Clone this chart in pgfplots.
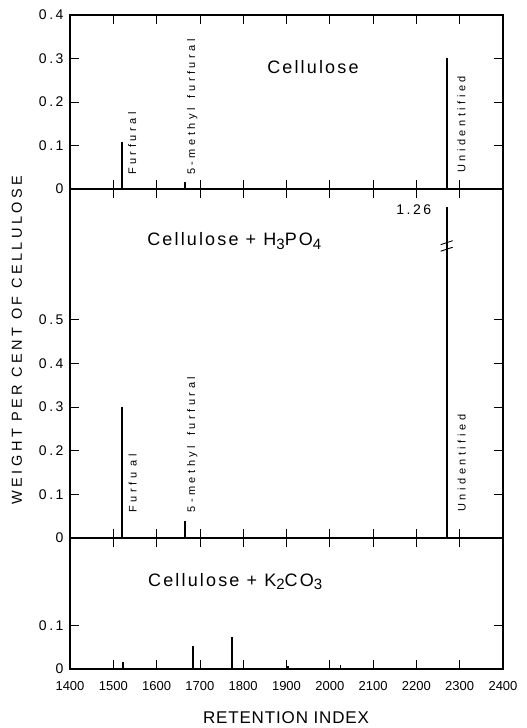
\documentclass[border=0pt]{standalone}
\usepackage{fontspec}
\setmainfont{Liberation Sans}
\usepackage{pgfplots}
\pgfplotsset{compat=1.18}
\newfontfamily\tfont[LetterSpace=12]{Liberation Sans}
\newfontfamily\sfont[LetterSpace=32]{Liberation Sans}
\newfontfamily\kfont[LetterSpace=18]{Liberation Sans}
\newfontfamily\yfont[LetterSpace=24]{Liberation Sans}
\newfontfamily\rfont[LetterSpace=5]{Liberation Sans}
\newfontfamily\xfont{Liberation Sans}
\newcommand{\ttl}{\tfont\fontsize{18}{20}\selectfont}
\newcommand{\sml}{\sfont\fontsize{11}{12}\selectfont}
\newcommand{\tk}{\kfont\fontsize{14}{14}\selectfont}
\newcommand{\sub}[1]{\raisebox{-0.4ex}{\fontsize{15}{15}\selectfont #1}}
\pgfplotsset{
  panel/.style={
    scale only axis, width=433pt, clip=false,
    xmin=1400, xmax=2400,
    xtick={1400,1500,1600,1700,1800,1900,2000,2100,2200,2300,2400},
    xticklabels={},
    ymin=0,
    axis line style={line width=1.5pt},
    tick style={line width=0.8pt, black},
    major tick length=9pt,
    tick align=inside,
    yticklabel style={font=\tk, xshift=-3pt},
    xticklabel style={font=\xfont\fontsize{13}{13}\selectfont, yshift=-9pt},
  },
  mybar/.style={ycomb, line width=1.6pt, black, mark=none},
}
\tikzset{lab/.style={font=\sml, rotate=90, anchor=north west, inner sep=0pt}}
\begin{document}
\begin{tikzpicture}
\useasboundingbox (0pt,0pt) rectangle (527pt,-728pt);
% top panel
\begin{axis}[panel, at={(70pt,-189pt)}, anchor=south west, height=174pt, ymax=0.4,
  ytick={0,0.1,0.2,0.3,0.4}, yticklabels={0,0.1,0.2,0.3,0.4}]
\addplot[mybar] coordinates {(1520,0.107) (1665,0.015) (2270,0.302)};
\node[lab] at (axis cs:1534,0.032) {Furfural};
\node[lab] at (axis cs:1670,0.032) {5-methyl\hspace{0.9em}furfural};
\node[lab] at (axis cs:2294,0.037) {Unidentified};
\node[font=\ttl, anchor=center] at (axis cs:1961,0.28) {Cellulose};
\end{axis}
% middle panel
\begin{axis}[panel, at={(70pt,-538pt)}, anchor=south west, height=349pt, ymax=0.8,
  ytick={0,0.1,0.2,0.3,0.4,0.5}, yticklabels={0,0.1,0.2,0.3,0.4,0.5}]
\addplot[mybar] coordinates {(1520,0.30) (1665,0.04) (2270,0.758)};
\node[lab] at (axis cs:1535,0.058) {Furfu al};
\node[lab] at (axis cs:1670,0.058) {5-methyl\hspace{0.9em}furfural};
\node[lab] at (axis cs:2295,0.06) {Unidentified};
\draw[line width=0.9pt] (axis cs:2270,0.662) ++(-6pt,-2pt) -- ++(12pt,4pt);
\draw[line width=0.9pt] (axis cs:2270,0.677) ++(-6pt,-2pt) -- ++(12pt,4pt);
\node[font=\tk, anchor=center] at (axis cs:2194,0.753) {1.26};
\node[font=\ttl, anchor=base west, inner sep=0pt] at (axis cs:1578,0.67) {Cellulose + H\sub{3}PO\sub{4}};
\end{axis}
% bottom panel
\begin{axis}[panel, at={(70pt,-669pt)}, anchor=south west, height=131pt, ymax=0.3,
  ytick={0,0.1}, yticklabels={0,0.1},
  xticklabels={1400,1500,1600,1700,1800,1900,2000,2100,2200,2300,2400}]
\addplot[mybar] coordinates {(1523,0.016) (1684,0.053) (1774,0.073) (1903,0.008) (2025,0.01)};
\node[font=\ttl, anchor=base west, inner sep=0pt] at (axis cs:1580,0.19) {Cellulose + K\sub{2}CO\sub{3}};
\end{axis}
\node[font=\yfont\fontsize{14.5}{14.5}\selectfont, rotate=90] at (17pt,-340pt) {WEIGHT PER CENT OF CELLULOSE};
\node[font=\rfont\fontsize{17}{17}\selectfont] at (286pt,-718pt) {RETENTION INDEX};
\end{tikzpicture}
\end{document}
